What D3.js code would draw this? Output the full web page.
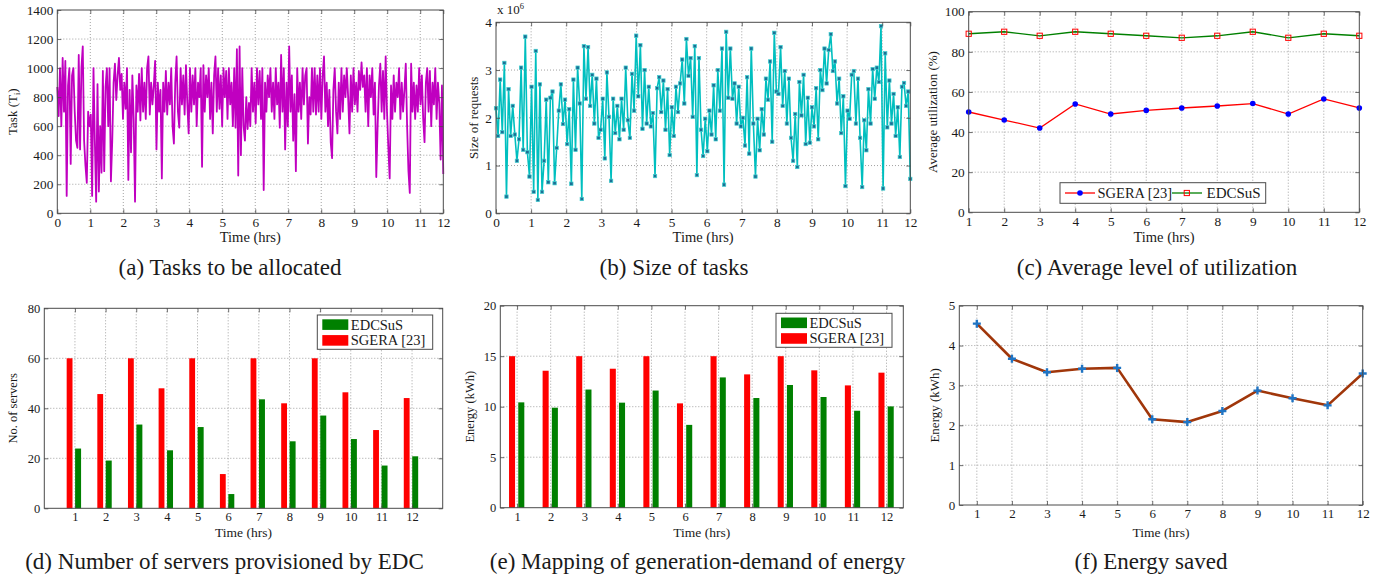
<!DOCTYPE html>
<html lang="en">
<head>
<meta charset="UTF-8">
<title>EDCSuS results</title>
<script src="https://d3js.org/d3.v7.min.js"></script>
<style>
  body { margin: 0; background: #fff; }
  svg { display: block; }
  text { font-family: 'Liberation Serif', 'Times New Roman', serif; fill: #1a1a1a; }
</style>
</head>
<body>
<script>
// ---- data ----
const hourLabels = ["0","1","2","3","4","5","6","7","8","9","10","11","12"];
const hours = [1,2,3,4,5,6,7,8,9,10,11,12];

// (a) tasks to be allocated
const tasks = [
  870,670,1000,600,1070,700,1050,120,880,1000,340,950,1000,700,500,450,1090,440,1000,1150,500,330,210,700,
  600,680,120,1000,500,80,890,150,600,280,980,290,870,1000,600,1000,220,500,900,1030,780,950,1070,850,
  960,650,900,720,1000,230,850,420,950,650,80,880,700,960,640,1000,700,900,650,1000,1080,680,900,750,
  880,1050,440,900,700,850,240,900,700,980,680,900,750,1000,600,480,900,1080,700,590,1000,750,950,680,
  1020,760,550,1000,700,950,750,1000,600,900,800,1000,320,1020,700,950,800,1000,650,900,550,950,1080,700,
  1000,720,950,600,1000,800,980,650,1000,750,900,600,1000,590,1130,260,1150,400,1000,600,500,800,580,760,
  600,1000,700,900,620,1000,750,980,650,1000,160,900,700,950,800,1000,700,900,650,1000,750,900,590,1090,
  700,1000,440,900,600,1150,700,950,500,820,290,1000,700,900,650,1000,750,950,1000,480,800,680,1000,700,
  1000,680,950,700,1000,650,950,1080,700,900,600,850,490,380,850,1000,700,550,900,650,1000,700,950,800,
  1000,800,550,950,700,1000,750,900,700,980,850,1040,870,950,700,1000,600,950,800,1000,680,900,250,600,
  880,1030,700,980,650,1080,700,450,240,880,650,950,700,900,800,1000,650,900,700,850,1030,600,290,140,
  1030,700,900,650,880,700,1000,750,950,650,490,900,1000,700,980,600,900,750,1000,650,900,760,370,880,270
];

// (b) size of requests (x 10^6)
const requestSize = [
  2.2,1.62,2.8,1.7,3.15,0.35,2.6,1.62,2.25,1.65,1.1,1.55,3.05,1.33,3.7,1.28,0.77,2.65,
  0.45,3.4,0.28,2.7,0.45,1.1,2.38,0.65,2.42,2.55,0.63,1.37,2.15,2.7,1.87,2.38,1.45,2.18,
  0.62,2.8,1.33,3.05,2.3,0.3,3.5,2.4,3.48,2.25,2.9,1.88,2.82,1.58,1.75,2.4,1.15,2.95,
  2.02,0.68,2.4,1.68,2.25,1.55,2.4,1.75,3.05,1.95,1.58,2.92,2.15,3.72,2.45,3.52,1.77,3.0,
  1.88,2.65,1.82,2.1,0.78,2.62,2.85,2.12,2.78,1.75,2.6,1.22,2.22,1.62,2.65,2.12,2.72,3.22,
  2.3,3.65,2.88,3.25,2.02,3.5,0.8,3.25,1.75,1.2,1.98,1.3,2.15,1.65,2.68,1.55,3.0,2.15,
  3.45,0.6,3.8,2.42,3.45,2.4,2.72,1.88,2.65,1.82,2.0,1.42,2.85,1.25,3.45,1.88,0.77,1.98,
  1.32,2.18,1.65,2.82,2.38,3.18,1.5,3.78,2.55,2.5,3.48,2.25,2.98,1.88,2.82,1.58,1.1,2.08,
  0.97,2.75,2.05,2.9,1.45,2.42,1.48,2.22,1.82,2.62,1.55,3.0,2.58,3.45,2.72,3.42,3.75,2.98,
  3.18,2.3,2.82,1.68,2.45,0.57,2.15,1.98,2.9,2.98,1.88,2.82,1.58,0.55,1.95,1.32,2.6,1.88,
  3.02,2.4,3.05,2.75,3.92,0.52,3.35,1.8,2.78,1.88,2.5,1.62,2.22,1.18,2.65,2.73,2.25,2.55,0.72
];

// (c) average utilization (%)
const utilSGERA   = [50,46,42,54,49,50.8,52,53,54.2,49,56.5,52];
const utilEDCSuS  = [89,90,88,90,89,88,87,88,90,87,89,88];

// (d) number of servers
const serversSGERA  = [60,45.7,60,48,60,13.7,60,42,60,46.4,31.3,44.1];
const serversEDCSuS = [23.9,19.1,33.5,23.2,32.5,5.7,43.6,26.8,37.1,27.7,17.1,20.8];

// (e) energy (kWh)
const energySGERA  = [15,13.56,15,13.76,15,10.33,15,13.2,15,13.6,12.11,13.37];
const energyEDCSuS = [10.43,9.9,11.7,10.4,11.6,8.2,12.9,10.86,12.15,10.96,9.6,10.03];

// (f) energy saved (kWh)
const energySaved = [4.55,3.67,3.33,3.42,3.44,2.15,2.08,2.36,2.87,2.68,2.50,3.30];

// ---- drawing ----
const svg = d3.select("body").append("svg").attr("width", 1381).attr("height", 579);
svg.append("rect").attr("width", 1381).attr("height", 579).attr("fill", "#fff");

const GRID = "#8a8a8a", BOX = "#4a4a4a";

function panel(o) {
  const g = svg.append("g");
  const x = d3.scaleLinear().domain(o.xDomain).range([o.left, o.right]);
  const y = d3.scaleLinear().domain(o.yDomain).range([o.bottom, o.top]);
  const inX = o.xTicks.filter(t => x(t) > o.left + 1 && x(t) < o.right - 1);
  const inY = o.yTicks.filter(t => y(t) < o.bottom - 1 && y(t) > o.top + 1);
  g.append("g").selectAll("line").data(inX).join("line")
    .attr("x1", d => x(d)).attr("x2", d => x(d)).attr("y1", o.top).attr("y2", o.bottom);
  g.append("g").selectAll("line").data(inY).join("line")
    .attr("y1", d => y(d)).attr("y2", d => y(d)).attr("x1", o.left).attr("x2", o.right);
  g.selectAll("line").attr("stroke", GRID).attr("stroke-width", 0.8).attr("stroke-dasharray", "1,2");
  return { g, x, y, o };
}

function finish(p) {
  const { g, x, y, o } = p;
  const fs = o.fontSize;
  const xf = o.xFormat || (d => d);
  const ax = g.append("g");
  ax.append("g").attr("transform", `translate(0,${o.bottom})`)
    .call(d3.axisBottom(x).tickValues(o.xTicks).tickFormat(xf).tickSizeInner(-4).tickSizeOuter(0).tickPadding(o.pad));
  ax.append("g").attr("transform", `translate(0,${o.top})`)
    .call(d3.axisTop(x).tickValues(o.xTicks).tickFormat("").tickSizeInner(-4).tickSizeOuter(0));
  ax.append("g").attr("transform", `translate(${o.left},0)`)
    .call(d3.axisLeft(y).tickValues(o.yTicks).tickFormat(o.yFormat || (d => d)).tickSizeInner(-4).tickSizeOuter(0).tickPadding(o.pad));
  ax.append("g").attr("transform", `translate(${o.right},0)`)
    .call(d3.axisRight(y).tickValues(o.yTicks).tickFormat("").tickSizeInner(-4).tickSizeOuter(0));
  ax.selectAll(".domain").remove();
  ax.selectAll(".tick line").attr("stroke", BOX).attr("stroke-width", 0.8);
  ax.selectAll(".tick text").attr("font-size", fs).attr("fill", "#1a1a1a");
  ax.selectAll("g").attr("font-family", null).attr("font-size", null);
  g.append("rect").attr("x", o.left).attr("y", o.top)
    .attr("width", o.right - o.left).attr("height", o.bottom - o.top)
    .attr("fill", "none").attr("stroke", BOX).attr("stroke-width", 1);
  // axis labels
  g.append("text").attr("x", (o.left + o.right) / 2).attr("y", o.xLabelY)
    .attr("text-anchor", "middle").attr("font-size", o.xLabelSize).text(o.xLabel);
  const yl = g.append("text")
    .attr("transform", `translate(${o.yLabelX},${(o.top + o.bottom) / 2}) rotate(-90)`)
    .attr("text-anchor", "middle").attr("font-size", o.labelSize);
  if (o.yLabelSub) {
    yl.text(o.yLabel);
    yl.append("tspan").attr("font-size", o.labelSize * 0.65).attr("dy", 3).text(o.yLabelSub);
    yl.append("tspan").attr("dy", -3).text(")");
  } else yl.text(o.yLabel);
  // caption
  svg.append("text").attr("x", o.capX).attr("y", o.capY).attr("text-anchor", "middle")
    .attr("font-size", 23).text(o.caption);
}

// ---------- (a) ----------
const aEnd = 11.7;
const pa = panel({
  left: 57.3, right: 443.3, top: 10, bottom: 213.3,
  xDomain: [0, aEnd], yDomain: [0, 1400],
  xTicks: hourLabels.map((d, i) => i < 12 ? i : aEnd),
  yTicks: d3.range(0, 1401, 200),
  xFormat: (d, i) => hourLabels[i],
  fontSize: 13.3, labelSize: 13, xLabelSize: 14.5, pad: 4,
  xLabel: "Time (hrs)", xLabelY: 242, yLabel: "Task (T", yLabelSub: "i", yLabelX: 17,
  caption: "(a) Tasks to be allocated", capX: 230, capY: 275
});
pa.g.append("path")
  .datum(tasks)
  .attr("d", d3.line().x((d, i) => pa.x(i * aEnd / (tasks.length - 1))).y(d => pa.y(d)))
  .attr("fill", "none").attr("stroke", "#c000c0").attr("stroke-width", 1.8).attr("stroke-linejoin", "round");
finish(pa);

// ---------- (b) ----------
const bEnd = 11.8;
const pb = panel({
  left: 496, right: 910.3, top: 22.3, bottom: 213.3,
  xDomain: [0, bEnd], yDomain: [0, 4],
  xTicks: hourLabels.map((d, i) => i < 12 ? i : bEnd),
  yTicks: [0, 1, 2, 3, 4],
  xFormat: (d, i) => hourLabels[i],
  fontSize: 13.3, labelSize: 13, xLabelSize: 14.5, pad: 4,
  xLabel: "Time (hrs)", xLabelY: 242, yLabel: "Size of requests", yLabelX: 478,
  caption: "(b) Size of tasks", capX: 674, capY: 275
});
const bx = (d, i) => pb.x(i * bEnd / (requestSize.length - 1));
pb.g.append("path")
  .datum(requestSize)
  .attr("d", d3.line().x(bx).y(d => pb.y(d)))
  .attr("fill", "none").attr("stroke", "#00bfbf").attr("stroke-width", 1.6).attr("stroke-linejoin", "round");
pb.g.append("g").selectAll("rect").data(requestSize).join("rect")
  .attr("x", (d, i) => bx(d, i) - 1.7).attr("y", d => pb.y(d) - 1.7)
  .attr("width", 3.4).attr("height", 3.4)
  .attr("fill", "#1b6f95").attr("stroke", "#3fd0d0").attr("stroke-width", 0.7);
finish(pb);
const sci = svg.append("text").attr("x", 497).attr("y", 14).attr("font-size", 13).text("x 10");
sci.append("tspan").attr("font-size", 8.5).attr("dy", -5.5).text("6");

// ---------- (c) ----------
const pc = panel({
  left: 968.7, right: 1359.3, top: 11.7, bottom: 212.3,
  xDomain: [1, 12], yDomain: [0, 100],
  xTicks: hours, yTicks: d3.range(0, 101, 20),
  fontSize: 13.3, labelSize: 13, xLabelSize: 14.5, pad: 4,
  xLabel: "Time (hrs)", xLabelY: 242, yLabel: "Average utilization (%)", yLabelX: 937,
  caption: "(c) Average level of utilization", capX: 1157, capY: 275
});
const lineC = d3.line().x((d, i) => pc.x(hours[i])).y(d => pc.y(d));
pc.g.append("path").datum(utilSGERA).attr("d", lineC)
  .attr("fill", "none").attr("stroke", "#ff0000").attr("stroke-width", 1.3);
pc.g.append("path").datum(utilEDCSuS).attr("d", lineC)
  .attr("fill", "none").attr("stroke", "#008000").attr("stroke-width", 1.3);
pc.g.append("g").selectAll("circle").data(utilSGERA).join("circle")
  .attr("cx", (d, i) => pc.x(hours[i])).attr("cy", d => pc.y(d)).attr("r", 2.8).attr("fill", "#0000ff");
pc.g.append("g").selectAll("rect").data(utilEDCSuS).join("rect")
  .attr("x", (d, i) => pc.x(hours[i]) - 2.6).attr("y", d => pc.y(d) - 2.6)
  .attr("width", 5.2).attr("height", 5.2).attr("fill", "none").attr("stroke", "#ff0000").attr("stroke-width", 1);
finish(pc);
{
  const lg = svg.append("g");
  lg.append("rect").attr("x", 1060).attr("y", 182.7).attr("width", 205.7).attr("height", 20.6)
    .attr("fill", "#fff").attr("stroke", BOX).attr("stroke-width", 1);
  lg.append("line").attr("x1", 1065).attr("x2", 1095).attr("y1", 193).attr("y2", 193).attr("stroke", "#ff0000").attr("stroke-width", 1.3);
  lg.append("circle").attr("cx", 1080).attr("cy", 193).attr("r", 2.8).attr("fill", "#0000ff");
  lg.append("text").attr("x", 1097.5).attr("y", 198).attr("font-size", 14.5).text("SGERA [23]");
  lg.append("line").attr("x1", 1172).attr("x2", 1202).attr("y1", 193).attr("y2", 193).attr("stroke", "#008000").attr("stroke-width", 1.3);
  lg.append("rect").attr("x", 1184.2).attr("y", 190.4).attr("width", 5.2).attr("height", 5.2)
    .attr("fill", "none").attr("stroke", "#ff0000");
  lg.append("text").attr("x", 1206.5).attr("y", 198).attr("font-size", 15).text("EDCSuS");
}

// ---------- bar legend helper ----------
function barLegend(bx0, by0, w, h, fs) {
  const lg = svg.append("g");
  lg.append("rect").attr("x", bx0).attr("y", by0).attr("width", w).attr("height", h)
    .attr("fill", "#fff").attr("stroke", BOX).attr("stroke-width", 1);
  const items = [["EDCSuS", "#008000"], ["SGERA [23]", "#ff0000"]];
  items.forEach(([name, col], k) => {
    const cy = by0 + h * (0.28 + 0.46 * k);
    lg.append("rect").attr("x", bx0 + 5).attr("y", cy - 5.3).attr("width", 26).attr("height", 10.6).attr("fill", col);
    lg.append("text").attr("x", bx0 + 33.5).attr("y", cy + 5).attr("font-size", fs).text(name);
  });
}

// ---------- (d) ----------
const pd = panel({
  left: 44.3, right: 442.7, top: 308.3, bottom: 508.3,
  xDomain: [0, 13], yDomain: [0, 80],
  xTicks: hours, yTicks: d3.range(0, 81, 20),
  fontSize: 12.5, labelSize: 12.5, xLabelSize: 13.5, pad: 4,
  xLabel: "Time (hrs)", xLabelY: 536.5, yLabel: "No. of servers", yLabelX: 17,
  caption: "(d) Number of servers provisioned by EDC", capX: 224.5, capY: 569
});
pd.g.append("g").selectAll("rect").data(serversSGERA).join("rect")
  .attr("x", (d, i) => pd.x(hours[i] - 0.27)).attr("width", pd.x(0.19) - pd.x(0))
  .attr("y", d => pd.y(d)).attr("height", d => pd.y(0) - pd.y(d)).attr("fill", "#ff0000");
pd.g.append("g").selectAll("rect").data(serversEDCSuS).join("rect")
  .attr("x", (d, i) => pd.x(hours[i] + 0.005)).attr("width", pd.x(0.195) - pd.x(0))
  .attr("y", d => pd.y(d)).attr("height", d => pd.y(0) - pd.y(d)).attr("fill", "#008000");
finish(pd);
barLegend(317.3, 315, 115.4, 34.3, 14.5);

// ---------- (e) ----------
const pe = panel({
  left: 500.3, right: 903.3, top: 305.7, bottom: 507.7,
  xDomain: [0.5, 12.5], yDomain: [0, 20],
  xTicks: hours, yTicks: d3.range(0, 21, 5),
  fontSize: 12.5, labelSize: 12.5, xLabelSize: 13.5, pad: 4,
  xLabel: "Time (hrs)", xLabelY: 536.5, yLabel: "Energy (kWh)", yLabelX: 474,
  caption: "(e) Mapping of generation-demand of energy", capX: 697.5, capY: 569
});
pe.g.append("g").selectAll("rect").data(energySGERA).join("rect")
  .attr("x", (d, i) => pe.x(hours[i] - 0.24)).attr("width", pe.x(0.68) - pe.x(0.5))
  .attr("y", d => pe.y(d)).attr("height", d => pe.y(0) - pe.y(d)).attr("fill", "#ff0000");
pe.g.append("g").selectAll("rect").data(energyEDCSuS).join("rect")
  .attr("x", (d, i) => pe.x(hours[i] + 0.035)).attr("width", pe.x(0.68) - pe.x(0.5))
  .attr("y", d => pe.y(d)).attr("height", d => pe.y(0) - pe.y(d)).attr("fill", "#008000");
finish(pe);
barLegend(776, 313.3, 116, 34, 14.5);

// ---------- (f) ----------
const pf = panel({
  left: 959.3, right: 1362.7, top: 305.7, bottom: 505,
  xDomain: [0.5, 12], yDomain: [0, 5],
  xTicks: hours, yTicks: d3.range(0, 6, 1),
  fontSize: 13, labelSize: 13, xLabelSize: 13.5, pad: 4,
  xLabel: "Time (hrs)", xLabelY: 536.5, yLabel: "Energy (kWh)", yLabelX: 939,
  caption: "(f) Energy saved", capX: 1151, capY: 569
});
pf.g.append("path").datum(energySaved)
  .attr("d", d3.line().x((d, i) => pf.x(hours[i])).y(d => pf.y(d)))
  .attr("fill", "none").attr("stroke", "#a0360a").attr("stroke-width", 2.6).attr("stroke-linejoin", "round");
pf.g.append("g").selectAll("path").data(energySaved).join("path")
  .attr("d", (d, i) => {
    const cx = pf.x(hours[i]), cy = pf.y(d), s = 4;
    return `M${cx - s},${cy}H${cx + s}M${cx},${cy - s}V${cy + s}`;
  })
  .attr("stroke", "#1f74c4").attr("stroke-width", 2.4).attr("fill", "none");
finish(pf);
</script>
</body>
</html>
